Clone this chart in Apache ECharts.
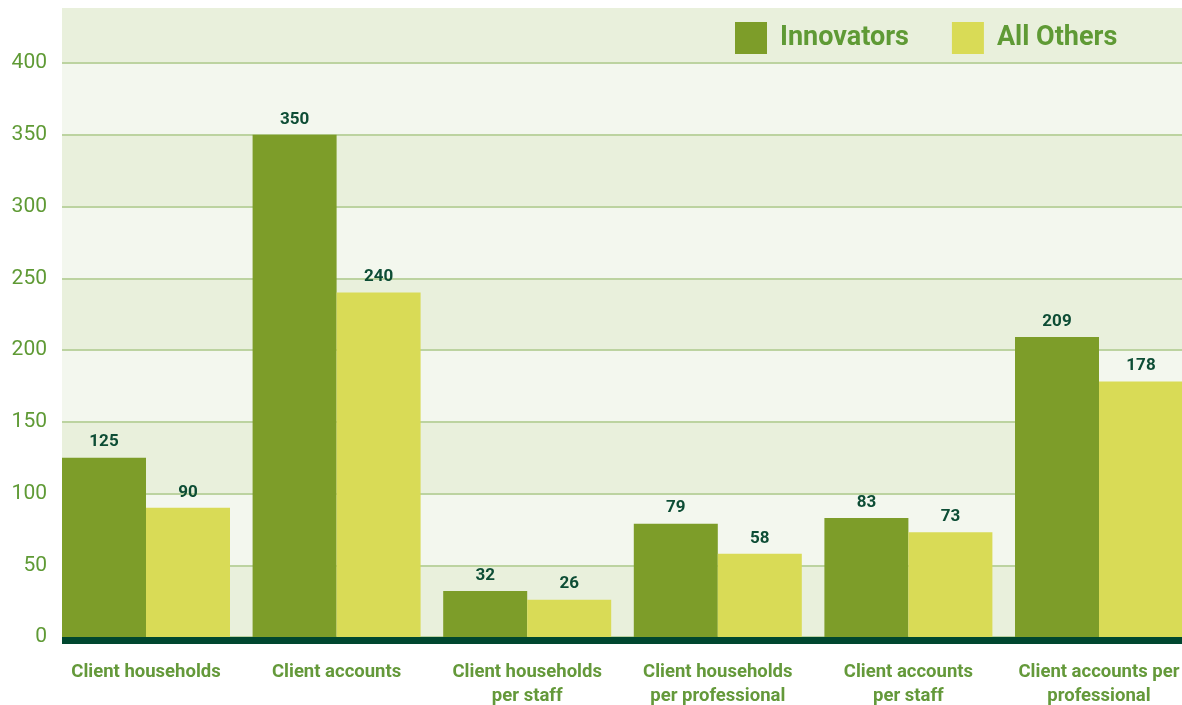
<!DOCTYPE html>
<html><head><meta charset="utf-8">
<script src="https://cdn.jsdelivr.net/npm/echarts@6/dist/echarts.min.js"></script>
<style>html,body{margin:0;padding:0;background:#fff}#c{width:1182px;height:705px}</style>
</head><body><div id="c"></div>
<script>
var categories = ['Client households', 'Client accounts', 'Client households\nper staff', 'Client households\nper professional', 'Client accounts\nper staff', 'Client accounts per\nprofessional'];
var innovators = [125, 350, 32, 79, 83, 209];
var allOthers = [90, 240, 26, 58, 73, 178];
var seriesNames = ['Innovators', 'All Others'];
var yMin = 0, yMax = 400, yStep = 50;

var FONT = 'Roboto';
var chart = echarts.init(document.getElementById('c'), null, {renderer: 'canvas'});
chart.setOption({
  animation: false,
  backgroundColor: '#ffffff',
  textStyle: {fontFamily: FONT},
  grid: [
    {left: 62, right: 0, top: 8, bottom: 64.5, show: true, backgroundColor: '#e9f0dc', borderWidth: 0, outerBoundsMode: 'none', containLabel: false},
    {left: 62, right: 0, top: 63, bottom: 68, outerBoundsMode: 'none', containLabel: false},
    {left: 50.7, width: 1143.6, top: 63, bottom: 68, outerBoundsMode: 'none', containLabel: false}
  ],
  legend: {
    left: 735, top: 22, padding: 0, itemWidth: 32, itemHeight: 32, itemGap: 43, icon: 'rect',
    data: seriesNames,
    textStyle: {color: '#5f9a35', fontSize: 27, fontWeight: 'bold', fontFamily: FONT, padding: [0, 0, 0, 8]}
  },
  xAxis: [
    {gridIndex: 0, type: 'value', min: 0, max: 1,
     axisLine: {show: true, lineStyle: {color: '#00472f', width: 7, cap: 'butt'}},
     axisTick: {show: false}, axisLabel: {show: false}, splitLine: {show: false}},
    {gridIndex: 1, type: 'value', show: false},
    {gridIndex: 2, type: 'category', data: categories,
     axisLine: {show: false}, axisTick: {show: false},
     axisLabel: {color: '#64993a', fontSize: 18.5, fontWeight: 'bold', fontFamily: FONT, lineHeight: 24, margin: 23, interval: 0}}
  ],
  yAxis: [
    {gridIndex: 0, type: 'value', show: false},
    {gridIndex: 1, type: 'value', min: yMin, max: yMax, interval: yStep,
     axisLine: {show: false}, axisTick: {show: false},
     axisLabel: {color: '#5f9a35', fontSize: 21, fontFamily: FONT, margin: 15},
     splitLine: {show: true, lineStyle: {color: '#bcd3a0', width: 2}},
     splitArea: {show: true, areaStyle: {color: ['#e9f0dc', '#f3f7ee']}}},
    {gridIndex: 2, type: 'value', min: yMin, max: yMax, interval: yStep, show: false}
  ],
  series: [
    {name: seriesNames[0], type: 'bar', xAxisIndex: 2, yAxisIndex: 2, data: innovators,
     barWidth: 84, barGap: '0%', itemStyle: {color: '#7d9d29'},
     label: {show: true, position: 'top', distance: 7, color: '#0d4d35', fontSize: 17, fontWeight: 'bold', fontFamily: FONT}},
    {name: seriesNames[1], type: 'bar', xAxisIndex: 2, yAxisIndex: 2, data: allOthers,
     barWidth: 84, barGap: '0%', itemStyle: {color: '#d9db56'},
     label: {show: true, position: 'top', distance: 7, color: '#0d4d35', fontSize: 17, fontWeight: 'bold', fontFamily: FONT}}
  ]
});
</script></body></html>
